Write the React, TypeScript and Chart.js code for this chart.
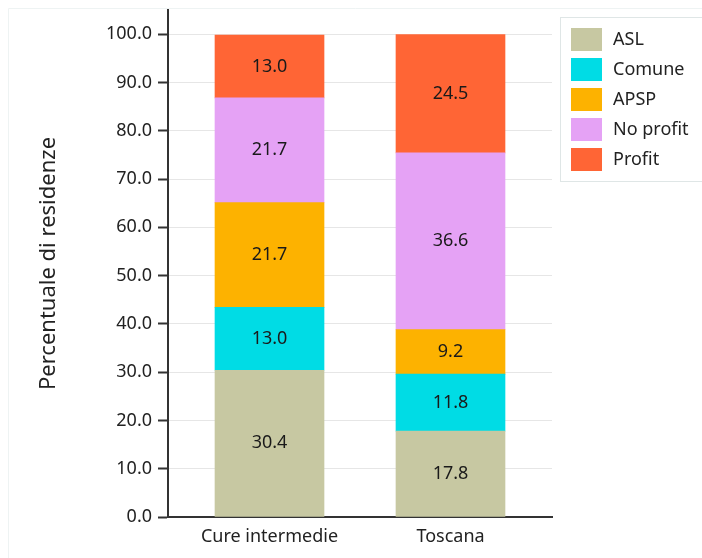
import React, { useEffect, useRef } from "react";
import { Chart, registerables } from "chart.js";

Chart.register(...registerables);

const categories = ["Cure intermedie", "Toscana"];
const seriesNames = ["ASL", "Comune", "APSP", "No profit", "Profit"];
const aslValues = [30.4, 17.8];
const comuneValues = [13.0, 11.8];
const apspValues = [21.7, 9.2];
const noProfitValues = [21.7, 36.6];
const profitValues = [13.0, 24.5];
const yTickValues = [0, 10, 20, 30, 40, 50, 60, 70, 80, 90, 100];

const colors = ["#c7c8a2", "#00dce5", "#fdb200", "#e5a2f5", "#ff6535"];
const FONT = "'Noto Sans', sans-serif";

const seriesValues = [aslValues, comuneValues, apspValues, noProfitValues, profitValues];

const decorPlugin = {
  id: "decor",
  beforeDraw(chart: any) {
    const ctx = chart.ctx;
    ctx.save();
    ctx.strokeStyle = "#eef3f3";
    ctx.lineWidth = 1;
    ctx.beginPath();
    ctx.moveTo(8.5, chart.height);
    ctx.lineTo(8.5, 8.5);
    ctx.lineTo(chart.width, 8.5);
    ctx.stroke();
    ctx.restore();
  },
  afterDatasetsDraw(chart: any) {
    const ctx = chart.ctx;
    ctx.save();
    ctx.font = `18px ${FONT}`;
    ctx.fillStyle = "#1a1a1a";
    ctx.textAlign = "center";
    ctx.textBaseline = "middle";
    chart.data.datasets.forEach((ds: any, di: number) => {
      const meta = chart.getDatasetMeta(di);
      meta.data.forEach((el: any, i: number) => {
        const v = ds.data[i].y;
        const cy = (el.y + el.base) / 2;
        ctx.fillText(v.toFixed(1), el.x, cy);
      });
    });
    ctx.restore();
  },
  afterDraw(chart: any) {
    const ctx = chart.ctx;
    ctx.save();
    const bx = 560.5, by = 17.5;
    ctx.strokeStyle = "#dfe6e6";
    ctx.lineWidth = 1;
    ctx.strokeRect(bx, by, chart.width + 10 - bx, 164);
    ctx.font = `18px ${FONT}`;
    ctx.textBaseline = "middle";
    ctx.textAlign = "left";
    chart.data.datasets.forEach((ds: any, i: number) => {
      const y = 28 + i * 30;
      ctx.fillStyle = ds.backgroundColor;
      ctx.fillRect(571, y, 31, 23);
      ctx.fillStyle = "#222";
      ctx.fillText(ds.label, 613, y + 12);
    });
    ctx.restore();
  },
};

export default function App() {
  const ref = useRef<HTMLCanvasElement | null>(null);
  useEffect(() => {
    document.body.style.margin = "0";
    const canvas = ref.current!;
    const chart = new Chart(canvas, {
      type: "bar",
      data: {
        datasets: seriesNames.map((name, si) => ({
          label: name,
          data: categories.map((_, ci) => ({ x: ci, y: seriesValues[si][ci] })),
          backgroundColor: colors[si],
          borderWidth: 0,
          barThickness: 109,
        })),
      },
      options: {
        animation: false,
        responsive: false,
        layout: { padding: { top: 10, right: 150, left: 0, bottom: 0 } },
        plugins: {
          legend: { display: false },
          tooltip: { enabled: false },
        },
        scales: {
          x: {
            type: "linear",
            stacked: true,
            offset: false,
            bounds: "data",
            min: -0.5608,
            max: 1.5608,
            afterBuildTicks: (scale: any) => {
              scale.ticks = categories.map((_, i) => ({ value: i }));
            },
            afterFit: (scale: any) => {
              scale.height = 41;
              scale.paddingLeft = 0;
              scale.paddingRight = 0;
            },
            grid: { display: false, drawTicks: false },
            border: { display: true, color: "#333", width: 2 },
            ticks: {
              padding: 9,
              maxRotation: 0,
              autoSkip: false,
              color: "#222",
              font: { family: FONT, size: 18 },
              callback: (v: any) => categories[Math.round(Number(v))] ?? "",
            },
          },
          y: {
            type: "linear",
            stacked: true,
            min: 0,
            max: 105,
            afterBuildTicks: (scale: any) => {
              scale.ticks = yTickValues.map((v) => ({ value: v }));
            },
            afterFit: (scale: any) => {
              scale.width = 168;
              scale.paddingTop = 0;
              scale.paddingBottom = 0;
            },
            grid: {
              color: "#e6e6e6",
              lineWidth: 1,
              tickLength: 10,
              tickColor: "#333",
              tickWidth: 2,
            },
            border: { display: true, color: "#333", width: 2 },
            ticks: {
              padding: 6,
              color: "#222",
              font: { family: FONT, size: 18 },
              callback: (v: any) => Number(v).toFixed(1),
            },
            title: {
              display: true,
              text: "Percentuale di residenze",
              color: "#222",
              font: { family: FONT, size: 22 },
              padding: { top: 36, bottom: 0 },
            },
          },
        },
      },
      plugins: [decorPlugin],
    } as any);
    return () => chart.destroy();
  }, []);
  return (
    <div style={{ width: 702, height: 558 }}>
      <canvas ref={ref} width={702} height={558} style={{ display: "block", width: 702, height: 558 }} />
    </div>
  );
}
